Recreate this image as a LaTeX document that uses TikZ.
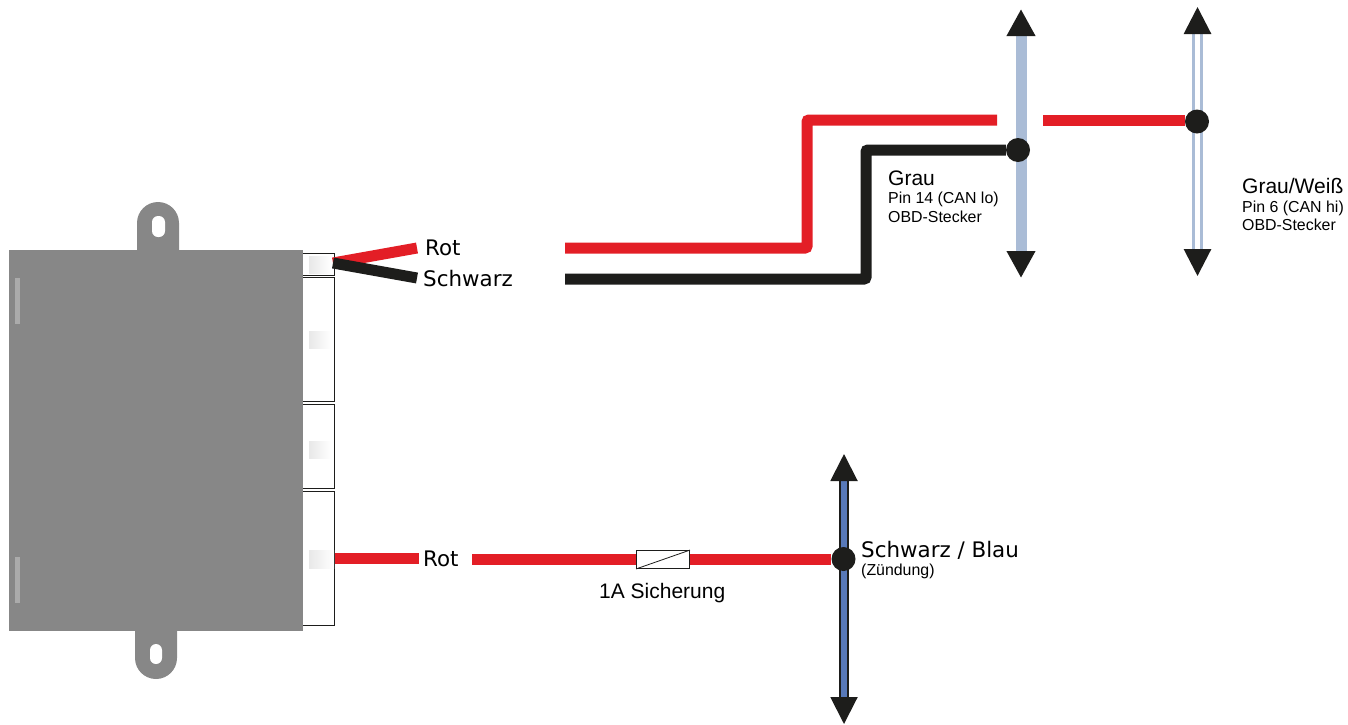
\documentclass[tikz,border=0pt]{standalone}
\usepackage{fontspec}
\setmainfont{Liberation Sans}
\newfontfamily\labelfont{DejaVu Sans}
\usetikzlibrary{arrows.meta}

\definecolor{wirered}{HTML}{E31E26}
\definecolor{wireblack}{HTML}{1D1D1B}
\definecolor{boxgray}{HTML}{878787}
\definecolor{busgray}{HTML}{AABCD6}
\definecolor{busblue}{HTML}{5879B9}

\tikzset{%
    redwire/.style = {draw = wirered, line width = 11pt},
    blackwire/.style = {draw = wireblack, line width = 11pt},
    bustip/.style = {{Triangle[length = 27pt, width = 27pt, color = wireblack]}-{Triangle[length = 27pt, width = 27pt, color = wireblack]}},
    joint/.style = {circle, fill = wireblack, minimum size = 24pt, inner sep = 0pt},
    bigtext/.style = {anchor = base west, inner sep = 0pt, font = \labelfont\fontsize{21.4}{21.4}\selectfont},
    midtext/.style = {anchor = base west, inner sep = 0pt, font = \fontsize{21}{21}\selectfont},
    smalltext/.style = {anchor = base west, inner sep = 0pt, font = \fontsize{15.9}{15.9}\selectfont},
    plug/.style = {draw = wireblack, fill = white, line width = 0.8pt},
    plugmark/.style = {left color = black!9, right color = white, draw = none},
    gleam/.style = {fill = white, fill opacity = 0.3, draw = none}
}

\begin{document}
\begin{tikzpicture}[%
        x = 1pt,
        y = -1pt,
        line cap = butt,
        > = Latex
    ]
        \useasboundingbox (0, 0) rectangle (1348, 724);

        % The four plugs behind the housing.
        \draw[plug] (290, 253) rectangle (334.5, 275);
        \draw[plug] (290, 277) rectangle (334.5, 401);
        \draw[plug] (290, 404) rectangle (334.5, 488);
        \draw[plug] (290, 491) rectangle (334.5, 625);
        \fill[plugmark] (309, 256) rectangle (331, 273);
        \fill[plugmark] (309, 331) rectangle (331, 348);
        \fill[plugmark] (309, 441) rectangle (331, 458);
        \fill[plugmark] (309, 550) rectangle (334, 568);

        % The housing with its two lugs.
        \fill[boxgray] (9, 250) rectangle (303, 631);
        \fill[boxgray] (137, 251) to (137, 223) arc (180:360:21) to (179, 251) to cycle;
        \fill[boxgray] (135, 630) to (135, 658) arc (180:0:21) to (177, 630) to cycle;
        \fill[white, rounded corners = 6pt] (152, 216) rectangle (165, 237);
        \fill[white, rounded corners = 6pt] (150, 644) rectangle (162, 664);
        \fill[gleam] (15, 278) rectangle (20, 324);
        \fill[gleam] (15, 557) rectangle (20, 603);

        % The three lines of the vehicle.
        \coordinate (lotop) at (1021, 9);
        \coordinate (lobot) at (1021, 278);
        \coordinate (hitop) at (1197.5, 7);
        \coordinate (hibot) at (1197.5, 276);
        \coordinate (igntop) at (844, 454);
        \coordinate (ignbot) at (844, 724);
        \draw[bustip, busgray, line width = 11pt] (lotop) to (lobot);
        \draw[bustip, busgray, line width = 3pt, double = white, double distance = 5pt] (hitop) to (hibot);
        \draw[bustip, wireblack, line width = 2pt, double = busblue, double distance = 6pt] (igntop) to (ignbot);

        % Joints on those lines.
        \node[joint] (lojoint) at (1018, 150) {};
        \node[joint] (hijoint) at (1197, 121.5) {};
        \node[joint] (ignjoint) at (843.5, 559) {};

        % Free ends of the wires.
        \coordinate (fanstart) at (333, 263);
        \coordinate (fanred) at (417, 248);
        \coordinate (fanblack) at (417, 278);
        \coordinate (canred) at (565, 248);
        \coordinate (canblack) at (565, 279);
        \coordinate (redgapa) at (997, 120);
        \coordinate (redgapb) at (1043, 120);
        \coordinate (plugout) at (334.5, 558);
        \coordinate (plugend) at (419, 558);
        \coordinate (fusein) at (472, 559);

        % The wires.
        \draw[redwire] (fanstart) to (fanred);
        \draw[blackwire] (fanstart) to (fanblack);
        \draw[redwire, rounded corners = 2pt] (canred) to (807, 248) to (807, 120) to (redgapa);
        \draw[blackwire, rounded corners = 2pt] (canblack) to (866, 279) to (866, 150) to (lojoint);
        \draw[redwire] (redgapb) to (redgapb -| hijoint.west);
        \draw[redwire] (plugout) to (plugend);
        \draw[redwire] (fusein) to (ignjoint);

        % Fuse on the ignition wire.
        \node[draw = wireblack, fill = white, line width = 0.8pt, minimum width = 53pt, minimum height = 18pt, inner sep = 0pt] (fuse) at (663, 559.5) {};
        \draw[wireblack, line width = 0.8pt] (fuse.south west) to (fuse.north east);

        % Labels.
        \node[bigtext] (fanredtext) at (425, 255) {Rot};
        \node[bigtext] (fanblacktext) at (423, 286) {Schwarz};
        \node[bigtext] (ignredtext) at (423, 566) {Rot};
        \node[bigtext] (igntext) at (861, 557) {Schwarz / Blau};
        \node[smalltext] (ignnote) at (861, 575) {(Zündung)};
        \node[midtext] (fusetext) at (599, 598) {1A Sicherung};
        \node[midtext] (lotext) at (888, 185) {Grau};
        \node[smalltext] (lopin) at (888, 203) {Pin 14 (CAN lo)};
        \node[smalltext] (loplug) at (888, 222) {OBD-Stecker};
        \node[midtext] (hitext) at (1242, 193) {Grau/Weiß};
        \node[smalltext] (hipin) at (1242, 212) {Pin 6 (CAN hi)};
        \node[smalltext] (hiplug) at (1242, 230) {OBD-Stecker};
    \end{tikzpicture}
\end{document}
